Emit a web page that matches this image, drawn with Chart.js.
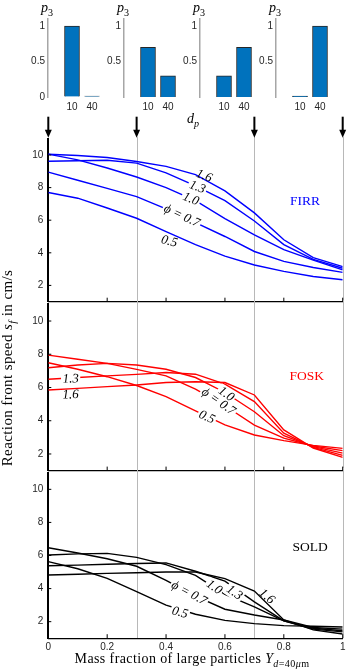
<!DOCTYPE html>
<html>
<head>
<meta charset="utf-8">
<script src="https://cdn.jsdelivr.net/npm/chart.js@4.4.1/dist/chart.umd.min.js"></script>
<style>
  body { margin: 0; background: #fff; width: 350px; height: 670px; overflow: hidden; position: relative; }
  canvas { position: absolute; }
  .lbl { position: absolute; font-family: 'Liberation Serif', serif; color: #000; white-space: nowrap; }
  .lbl sub { font-size: 72%; vertical-align: baseline; position: relative; top: 0.35em; }
</style>
</head>
<body>
<canvas id="bar1" width="94" height="117" style="left:18.3px;top:0"></canvas>
<canvas id="bar2" width="94" height="117" style="left:94px;top:0"></canvas>
<canvas id="bar3" width="94" height="117" style="left:170px;top:0"></canvas>
<canvas id="bar4" width="94" height="117" style="left:246px;top:0"></canvas>
<canvas id="firr" width="350" height="194" style="left:0;top:112px"></canvas>
<canvas id="fosk" width="350" height="174" style="left:0;top:300px"></canvas>
<canvas id="sold" width="350" height="202" style="left:0;top:468px"></canvas>

<div class="lbl" style="left:41px;top:0px;font-size:14px"><i>p</i><sub>3</sub></div>
<div class="lbl" style="left:117px;top:0px;font-size:14px"><i>p</i><sub>3</sub></div>
<div class="lbl" style="left:193px;top:0px;font-size:14px"><i>p</i><sub>3</sub></div>
<div class="lbl" style="left:269px;top:0px;font-size:14px"><i>p</i><sub>3</sub></div>
<div class="lbl" style="left:187px;top:111px;font-size:14px"><i>d</i><sub><i>p</i></sub></div>
<div class="lbl" style="left:-113px;top:359px;width:240px;height:18px;line-height:18px;text-align:center;font-size:15px;letter-spacing:0.4px;transform:rotate(-90deg)">Reaction front speed <i>s</i><sub><i>f</i></sub> in cm/s</div>
<div class="lbl" style="left:42px;top:651px;width:300px;text-align:center;font-size:14px;letter-spacing:0.4px">Mass fraction of large particles <i>Y</i><sub><i>d</i>=40<i>μ</i>m</sub></div>

<script>
// x values of every curve (mass fraction of 40 micron particles)
const mixFraction = [0, 0.1, 0.2, 0.3, 0.4, 0.5, 0.6, 0.7, 0.8, 0.9, 1];
const phiNames = ['0.5', '0.7', '1.0', '1.3', '1.6'];

// FIRR
const firr05 = [7.70, 7.35, 6.75, 6.12, 5.30, 4.50, 3.80, 3.25, 2.86, 2.55, 2.35];
const firr07 = [8.95, 8.45, 7.95, 7.45, 6.70, 5.85, 5.00, 4.08, 3.47, 3.10, 2.80];
const firr10 = [10.05, 9.70, 9.20, 8.65, 8.00, 7.20, 6.10, 5.10, 4.20, 3.55, 2.95];
const firr13 = [9.62, 9.65, 9.68, 9.50, 8.90, 8.10, 7.20, 5.95, 4.50, 3.60, 3.05];
const firr16 = [10.05, 9.97, 9.85, 9.60, 9.30, 8.80, 7.80, 6.45, 4.80, 3.70, 3.15];

// FOSK
const fosk05 = [7.49, 7.10, 6.65, 6.12, 5.45, 4.60, 3.75, 3.14, 2.80, 2.52, 2.34];
const fosk07 = [7.95, 7.70, 7.45, 7.09, 6.70, 5.90, 4.90, 3.74, 2.95, 2.48, 2.20];
const fosk10 = [7.19, 7.35, 7.45, 7.35, 7.10, 6.60, 5.70, 4.54, 3.10, 2.44, 2.05];
const fosk13 = [6.50, 6.60, 6.70, 6.79, 6.90, 6.80, 6.20, 5.15, 3.25, 2.40, 1.92];
const fosk16 = [5.85, 5.95, 6.05, 6.15, 6.30, 6.35, 6.30, 5.55, 3.45, 2.36, 1.80];

// SOLD
const sold05 = [5.63, 5.20, 4.62, 3.81, 3.00, 2.45, 2.08, 1.88, 1.76, 1.72, 1.68];
const sold07 = [6.47, 6.15, 5.80, 5.35, 4.50, 3.55, 2.75, 2.40, 2.10, 1.65, 1.55];
const sold10 = [6.03, 6.10, 6.13, 5.89, 5.45, 4.80, 3.65, 2.90, 2.05, 1.60, 1.45];
const sold13 = [5.38, 5.42, 5.47, 5.52, 5.55, 5.05, 4.45, 3.20, 2.05, 1.55, 1.38];
const sold16 = [4.82, 4.87, 4.92, 4.96, 5.00, 5.00, 4.60, 3.85, 2.10, 1.50, 1.25];

// size distributions shown on top
const dpLabels = ['10', '40'];
const p3Case1 = [1, 0];
const p3Case2 = [0.7, 0.3];
const p3Case3 = [0.3, 0.7];
const p3Case4 = [0, 1];

const markerX = [0, 0.3, 0.7, 1];
const xTickValues = [0, 0.2, 0.4, 0.6, 0.8, 1];
const yTickValues = [2, 4, 6, 8, 10];

const tickFont = { family: "'Liberation Sans', Arial, sans-serif", size: 10 };
const tickColor = '#262626';

// keep chart area exactly where the padding puts it
const noScalePad = s => { s.paddingTop = 0; s.paddingBottom = 0; s.paddingLeft = 0; s.paddingRight = 0; };

// grey marker lines, inner ticks, inline labels, arrows
const decor = {
  id: 'decor',
  beforeDraw(chart, args, o) {
    const { ctx, chartArea: a, scales: { x } } = chart;
    ctx.save();
    ctx.strokeStyle = '#b8b8b8';
    ctx.lineWidth = 1;
    markerX.forEach(v => {
      if (v === 0) return;
      const px = Math.round(x.getPixelForValue(v)) + 0.5;
      ctx.beginPath();
      ctx.moveTo(px, o.arrows ? a.top - 2 : 0);
      ctx.lineTo(px, a.bottom);
      ctx.stroke();
    });
    ctx.restore();
  },
  afterDatasetsDraw(chart, args, o) {
    const { ctx, chartArea: a, scales: { x, y } } = chart;
    ctx.save();
    ctx.strokeStyle = '#000';
    ctx.lineWidth = 1;
    xTickValues.forEach(v => {
      const px = x.getPixelForValue(v);
      ctx.beginPath();
      ctx.moveTo(px, a.bottom);
      ctx.lineTo(px, a.bottom - 4);
      ctx.stroke();
    });
    yTickValues.forEach(v => {
      const py = y.getPixelForValue(v);
      ctx.beginPath();
      ctx.moveTo(a.left, py);
      ctx.lineTo(a.left + 3, py);
      ctx.stroke();
    });

    ctx.font = "italic 13px 'Liberation Serif', serif";
    ctx.textAlign = 'center';
    ctx.textBaseline = 'middle';
    o.notes.forEach(n => {
      ctx.save();
      ctx.translate(x.getPixelForValue(n.x), y.getPixelForValue(n.y));
      ctx.rotate(n.a * Math.PI / 180);
      const w = ctx.measureText(n.t).width;
      if (n.bg) {
        ctx.fillStyle = '#fff';
        ctx.fillRect(-w / 2 - 1.5, -6.5, w + 3, 13);
      }
      ctx.fillStyle = '#000';
      ctx.fillText(n.t, 0, 0);
      ctx.restore();
    });

    ctx.font = "13.5px 'Liberation Serif', serif";
    ctx.fillStyle = o.color;
    ctx.fillText(o.name, x.getPixelForValue(o.nameAt[0]), y.getPixelForValue(o.nameAt[1]));

    if (o.arrows) {
      ctx.fillStyle = '#000';
      markerX.forEach(v => {
        const px = x.getPixelForValue(v);
        const tip = a.top - 1;
        ctx.fillRect(px - 1, tip - 21, 2, 14);
        ctx.beginPath();
        ctx.moveTo(px - 3.5, tip - 8);
        ctx.lineTo(px + 3.5, tip - 8);
        ctx.lineTo(px, tip);
        ctx.closePath();
        ctx.fill();
      });
    }
    ctx.restore();
  }
};

function lineChart(id, series, color, decorOpts, pad, showX) {
  new Chart(document.getElementById(id), {
    type: 'line',
    data: {
      datasets: series.map((s, k) => ({
        label: phiNames[k],
        data: mixFraction.map((v, i) => ({ x: v, y: s[i] })),
        borderColor: color,
        borderWidth: 1.4,
        pointRadius: 0,
        tension: 0,
        fill: false
      }))
    },
    options: {
      responsive: false,
      animation: false,
      events: [],
      layout: { padding: { left: 0, right: 7.3, top: pad[0], bottom: pad[1] } },
      plugins: {
        legend: { display: false },
        tooltip: { enabled: false },
        decor: Object.assign({ color }, decorOpts)
      },
      scales: {
        x: {
          type: 'linear', min: 0, max: 1,
          afterBuildTicks: s => { s.ticks = xTickValues.map(v => ({ value: v })); },
          afterFit: s => { s.height = showX ? 18 : 0; noScalePad(s); },
          ticks: { display: showX, font: tickFont, color: tickColor, padding: 3, maxRotation: 0, callback: v => String(v) },
          grid: { drawOnChartArea: false, drawTicks: false },
          border: { color: '#000', width: 1.2 }
        },
        y: {
          min: 1, max: 11,
          afterBuildTicks: s => { s.ticks = yTickValues.map(v => ({ value: v })); },
          afterFit: s => { s.width = 48.3; noScalePad(s); },
          ticks: { font: tickFont, color: tickColor, padding: 5 },
          grid: { drawOnChartArea: false, drawTicks: false },
          border: { color: '#000', width: 2 }
        }
      }
    },
    plugins: [decor]
  });
}

function barChart(id, values, ticks) {
  new Chart(document.getElementById(id), {
    type: 'bar',
    data: {
      datasets: [{
        data: values.map((v, i) => ({ x: i + 1, y: v })),
        backgroundColor: '#0072BD',
        borderColor: '#262626',
        borderWidth: 1,
        barThickness: 15,
        minBarLength: 1
      }]
    },
    options: {
      responsive: false,
      animation: false,
      events: [],
      layout: { padding: { left: 0, right: 0, top: 19, bottom: 0 } },
      plugins: { legend: { display: false }, tooltip: { enabled: false } },
      scales: {
        x: {
          type: 'linear', min: -0.2, max: 3, offset: false,
          afterBuildTicks: s => { s.ticks = dpLabels.map((_, i) => ({ value: i + 1 })); },
          afterFit: s => { s.height = 20; noScalePad(s); },
          ticks: { font: tickFont, color: tickColor, padding: 4, maxRotation: 0, autoSkip: false, callback: (v, i) => dpLabels[i] },
          grid: { display: false, drawTicks: false, offset: false },
          border: { display: false }
        },
        y: {
          min: 0, max: 1.1,
          afterBuildTicks: s => { s.ticks = ticks.map(v => ({ value: v })); },
          afterFit: s => { s.width = 30; noScalePad(s); },
          ticks: { font: tickFont, color: tickColor, padding: 3, callback: v => String(v) },
          grid: { drawOnChartArea: false, drawTicks: false },
          border: { color: '#a6a6a6', width: 1.5 }
        }
      }
    }
  });
}

barChart('bar1', p3Case1, [0, 0.5, 1]);
barChart('bar2', p3Case2, [0.5, 1]);
barChart('bar3', p3Case3, [0.5, 1]);
barChart('bar4', p3Case4, [0.5, 1]);

lineChart('firr', [firr05, firr07, firr10, firr13, firr16], '#0000ff', {
  name: 'FIRR', nameAt: [0.872, 7.12], arrows: true,
  notes: [
    { t: '1.6', x: 0.529, y: 8.71, a: 22, bg: false },
    { t: '1.3', x: 0.506, y: 8.02, a: 22, bg: true },
    { t: '1.0', x: 0.484, y: 7.29, a: 22, bg: true },
    { t: 'ϕ = 0.7', x: 0.453, y: 6.26, a: 25, bg: true },
    { t: '0.5', x: 0.411, y: 4.69, a: 15, bg: false }
  ]
}, [26.7, 4.3], false);

lineChart('fosk', [fosk05, fosk07, fosk10, fosk13, fosk16], '#ff0000', {
  name: 'FOSK', nameAt: [0.878, 6.65], arrows: false,
  notes: [
    { t: '1.3', x: 0.076, y: 6.51, a: -2, bg: true },
    { t: '1.6', x: 0.076, y: 5.55, a: -1, bg: false },
    { t: '1.0', x: 0.604, y: 5.6, a: 35, bg: true },
    { t: 'ϕ = 0.7', x: 0.578, y: 5.15, a: 35, bg: true },
    { t: '0.5', x: 0.538, y: 4.21, a: 25, bg: true }
  ]
}, [4.4, 3.4], false);

lineChart('sold', [sold05, sold07, sold10, sold13, sold16], '#000000', {
  name: 'SOLD', nameAt: [0.889, 6.5], arrows: false,
  notes: [
    { t: 'ϕ = 0.7', x: 0.478, y: 3.72, a: 28, bg: true },
    { t: '0.5', x: 0.447, y: 2.54, a: 15, bg: true },
    { t: '1.0', x: 0.563, y: 4.08, a: 35, bg: true },
    { t: '1.3', x: 0.632, y: 3.75, a: 35, bg: true },
    { t: '1.6', x: 0.742, y: 3.51, a: 40, bg: false }
  ]
}, [4.8, 13.8], true);
</script>
</body>
</html>
